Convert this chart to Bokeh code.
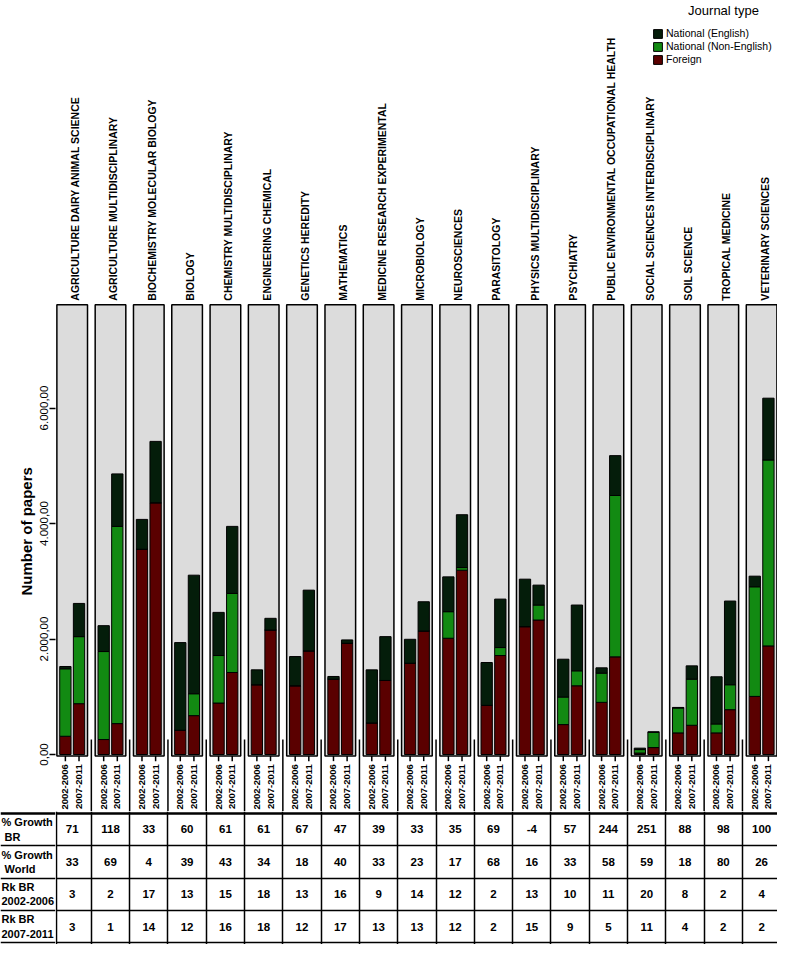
import numpy as np
from bokeh.plotting import figure
from bokeh.models import ColumnDataSource, Range1d, FixedTicker, Legend, LegendItem, Label, Title
from bokeh.layouts import column, row
from bokeh.embed import file_html
from bokeh.resources import INLINE
from bokeh.core.properties import value

# ---------------- data ----------------
categories = [
    "AGRICULTURE DAIRY ANIMAL SCIENCE", "AGRICULTURE MULTIDISCIPLINARY",
    "BIOCHEMISTRY MOLECULAR BIOLOGY", "BIOLOGY", "CHEMISTRY MULTIDISCIPLINARY",
    "ENGINEERING CHEMICAL", "GENETICS HEREDITY", "MATHEMATICS",
    "MEDICINE RESEARCH EXPERIMENTAL", "MICROBIOLOGY", "NEUROSCIENCES",
    "PARASITOLOGY", "PHYSICS MULTIDISCIPLINARY", "PSYCHIATRY",
    "PUBLIC ENVIRONMENTAL OCCUPATIONAL HEALTH", "SOCIAL SCIENCES INTERDISCIPLINARY",
    "SOIL SCIENCE", "TROPICAL MEDICINE", "VETERINARY SCIENCES",
]
periods = ["2002-2006", "2007-2011"]

foreign_0206 =    [316, 259, 3554, 420, 891, 1208, 1190, 1305, 546, 1581, 2013, 851, 2214, 518, 903, 25, 374, 374, 1006]
nonenglish_0206 = [1168, 1524, 0, 0, 823, 0, 0, 0, 0, 0, 460, 0, 0, 477, 506, 60, 431, 155, 1898]
english_0206 =    [40, 448, 517, 1518, 747, 258, 506, 46, 920, 414, 603, 742, 822, 655, 92, 25, 10, 817, 184]

foreign_0711 =    [880, 535, 4359, 673, 1420, 2156, 1794, 1926, 1282, 2139, 3191, 1714, 2329, 1190, 1691, 120, 506, 776, 1880]
nonenglish_0711 = [1161, 3415, 0, 379, 1369, 0, 0, 0, 0, 0, 46, 138, 259, 259, 2794, 265, 799, 432, 3220]
english_0711 =    [575, 909, 1063, 2053, 1161, 202, 1052, 58, 759, 506, 915, 839, 345, 1139, 690, 8, 230, 1449, 1070]

series_labels = ["Foreign", "National (Non-English)", "National (English)"]
series_colors = ["#5a0000", "#128a12", "#041d0a"]

row_labels = ["% Growth\n\u00a0BR", "% Growth\n\u00a0World", "Rk BR\n2002-2006", "Rk BR\n2007-2011"]
growth_br =    [71, 118, 33, 60, 61, 61, 67, 47, 39, 33, 35, 69, -4, 57, 244, 251, 88, 98, 100]
growth_world = [33, 69, 4, 39, 43, 34, 18, 40, 33, 23, 17, 68, 16, 33, 58, 59, 18, 80, 26]
rank_0206 =    [3, 2, 17, 13, 15, 18, 13, 16, 9, 14, 12, 2, 13, 10, 11, 20, 8, 2, 4]
rank_0711 =    [3, 1, 14, 12, 16, 18, 12, 17, 13, 13, 12, 2, 15, 9, 5, 11, 4, 2, 2]
table_rows = [growth_br, growth_world, rank_0206, rank_0711]

# ---------------- layout constants ----------------
FONT = value("Liberation Sans")
W, MAIN_H, TAB_H, LEFT = 777, 811, 133, 55
PX_PER_UNIT_Y = 0.05775          # pixels per paper
ZERO_FROM_TOP = 754              # px from figure top to y=0
PANEL_TOP = 7790
PANEL_HALF = 0.4
BAR_OFF = 0.178
BAR_W = 0.295

n = len(categories)
idx = np.arange(n, dtype=float)

x_range = Range1d(-0.436, -0.436 + (W - LEFT) / 38.3)
y_range = Range1d(-(MAIN_H - ZERO_FROM_TOP) / PX_PER_UNIT_Y, ZERO_FROM_TOP / PX_PER_UNIT_Y)

p = figure(width=W, height=MAIN_H, x_range=x_range, y_range=y_range,
           output_backend="svg", toolbar_location=None, x_axis_location=None,
           min_border_left=LEFT, min_border_right=0, min_border_top=0, min_border_bottom=0)
p.outline_line_color = None
p.grid.visible = False
p.background_fill_color = "white"

ax = p.yaxis[0]
ax.ticker = FixedTicker(ticks=[0, 2000, 4000, 6000])
ax.major_label_overrides = {0: "0,00", 2000: "2.000,00", 4000: "4.000,00", 6000: "6.000,00"}
ax.major_label_orientation = "vertical"
ax.axis_line_color = None
ax.minor_tick_line_color = None
ax.major_tick_in = 0
ax.major_tick_out = 6
ax.major_tick_line_width = 1.5
ax.major_tick_line_color = "black"
ax.major_label_standoff = 2
ax.major_label_text_font = "Liberation Sans"
ax.major_label_text_font_size = "11.5px"
ax.major_label_text_color = "black"

# y-axis title, anchored from the bottom of the frame so it sits beside the value scale
p.add_layout(Title(text="Number of papers", align="left", offset=216, standoff=4,
                   text_font="Liberation Sans", text_font_style="bold",
                   text_font_size="15px", text_color="black"), "left")

# separators between columns (run down into table)
p.segment(x0=idx[:-1] + 0.5, x1=idx[:-1] + 0.5, y0=y_range.start, y1=260,
          line_color="black", line_width=1.5)

# panels
p.quad(left=idx - PANEL_HALF, right=idx + PANEL_HALF, bottom=-25, top=PANEL_TOP,
       fill_color="#dcdcdc", line_color="black", line_width=1.5)

# bars
xs, per, f_, g_, e_ = [], [], [], [], []
for i in range(n):
    for k, (fv, gv, ev) in enumerate([(foreign_0206[i], nonenglish_0206[i], english_0206[i]),
                                       (foreign_0711[i], nonenglish_0711[i], english_0711[i])]):
        xs.append(idx[i] + (BAR_OFF if k else -BAR_OFF))
        per.append(periods[k])
        f_.append(fv); g_.append(gv); e_.append(ev)
src = ColumnDataSource(dict(x=xs, period=per, foreign=f_, nonenglish=g_, english=e_))

rs = p.vbar_stack(["foreign", "nonenglish", "english"], x="x", width=BAR_W, source=src,
                  fill_color=series_colors, line_color="black", line_width=1)

# x ticks and labels
p.segment(x0="x", x1="x", y0=-25, y1=-115, source=src, line_color="black", line_width=1.5)
p.text(x="x", y=-115, text="period", source=src, angle=np.pi / 2, y_offset=3,
       text_align="right", text_baseline="middle", text_font=FONT,
       text_font_style="bold", text_font_size="9.5px", text_color="black")

# category labels
p.text(x=idx, y=PANEL_TOP, text=categories, angle=np.pi / 2, x_offset=3, y_offset=-4,
       text_align="left", text_baseline="middle", text_font=FONT,
       text_font_style="bold", text_font_size="10.5px", text_color="black")

# legend
legend = Legend(items=[LegendItem(label=series_labels[2], renderers=[rs[2]]),
                       LegendItem(label=series_labels[1], renderers=[rs[1]]),
                       LegendItem(label=series_labels[0], renderers=[rs[0]])],
                location=(597, 746), background_fill_alpha=0, border_line_color=None,
                padding=0, margin=0, spacing=1, glyph_height=11, glyph_width=11,
                label_height=12, label_standoff=3, label_text_font="Liberation Sans",
                label_text_font_size="10.5px", label_text_color="black")
p.add_layout(legend)
p.add_layout(Label(x=668, y=801, x_units="screen", y_units="screen", text="Journal type",
                   text_align="center", text_baseline="middle", text_font="Liberation Sans",
                   text_font_size="13px", text_color="black"))

# ---------------- table ----------------
ty = Range1d(-0.05, 4.05)
yc = [3.5, 2.5, 1.5, 0.5]

lab = figure(width=LEFT, height=TAB_H, x_range=Range1d(0, LEFT), y_range=ty,
             output_backend="svg", toolbar_location=None,
             x_axis_location=None, y_axis_location=None, min_border=0)
tbl = figure(width=W - LEFT, height=TAB_H, x_range=x_range, y_range=ty,
             output_backend="svg", toolbar_location=None,
             x_axis_location=None, y_axis_location=None, min_border=0)
for f in (lab, tbl):
    f.outline_line_color = None
    f.grid.visible = False
    f.hspan(y=[0, 1, 2, 3], line_color="black", line_width=1.5)
    f.hspan(y=[4], line_color="black", line_width=2.5)

lab.text(x=1, y=yc, text=row_labels, text_align="left", text_baseline="middle",
         text_font=FONT, text_font_style="bold", text_font_size="11px", text_color="black")

tbl.vspan(x=list(idx[:-1] + 0.5) + [-PANEL_HALF], line_color="black", line_width=1.5)
for r, vals in enumerate(table_rows):
    tbl.text(x=idx, y=[yc[r]] * n, text=[str(v) for v in vals], text_align="center",
             text_baseline="middle", text_font=FONT, text_font_style="bold",
             text_font_size="11.5px", text_color="black")

layout = column(p, row(lab, tbl))
open("out.html", "w").write(file_html(layout, INLINE))
